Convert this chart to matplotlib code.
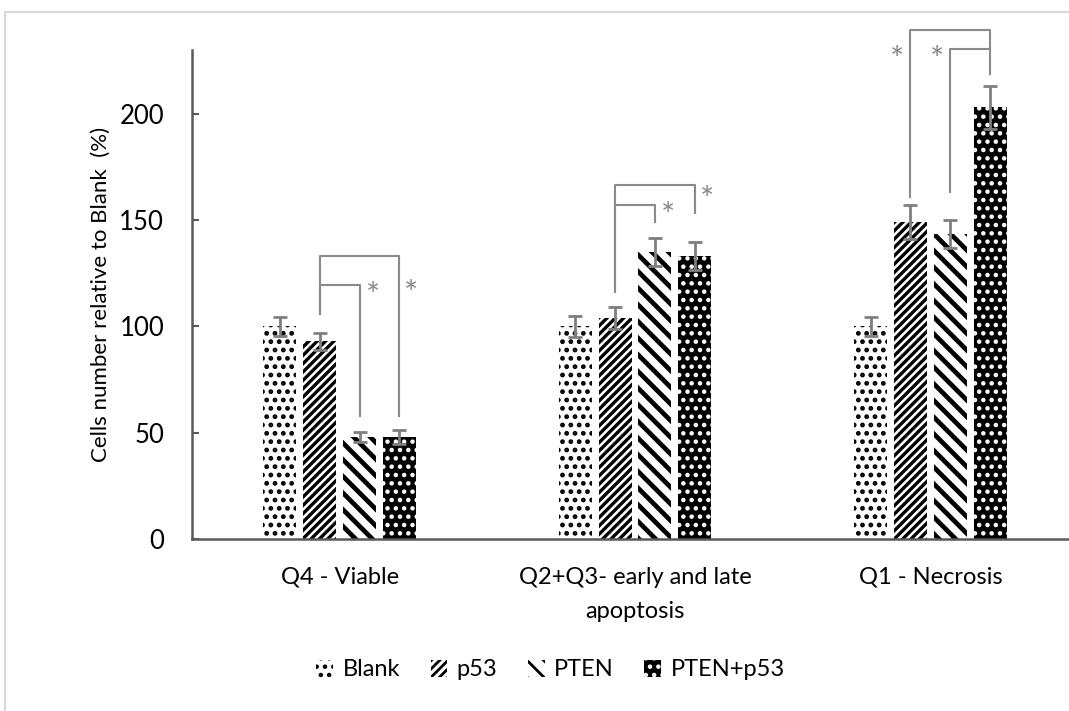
import numpy as np
import matplotlib
matplotlib.use("Agg")
import matplotlib.pyplot as plt
from matplotlib.patches import Rectangle

plt.rcParams['font.family'] = ['Lato', 'DejaVu Sans']

# data
categories = ["Q4 - Viable", "Q2+Q3- early and late\napoptosis", "Q1 - Necrosis"]
groups = ["Blank", "p53", "PTEN", "PTEN+p53"]
blank = [100, 100, 100]
p53 = [93, 104, 149]
pten = [48, 135, 143.5]
pten_p53 = [48, 133, 203]
blank_err = [4.5, 5, 4.5]
p53_err = [4, 5, 8]
pten_err = [2.5, 6.5, 6.5]
pten_p53_err = [3.5, 6.5, 10]

values = [blank, p53, pten, pten_p53]
errors = [blank_err, p53_err, pten_err, pten_p53_err]

# bar looks: face, hatch, hatch colour, hatch width
styles = [("white", "..", "black", 2.2),
          ("white", "////", "black", 2.4),
          ("white", "\\\\", "black", 3.4),
          ("black", "..", "white", 2.0)]

fig = plt.figure(figsize=(10.69, 7.11), dpi=100)
W, H = 1069, 711
ax = fig.add_axes([192 / W, (H - 539) / H, (1078 - 192) / W, (539 - 50) / H])

x = np.arange(len(categories))
step = 0.135
width = 0.112
handles = []
for i in range(len(groups)):
    face, hatch, hcol, hlw = styles[i]
    pos = x + (i - 1.5) * step
    plt.rcParams['hatch.linewidth'] = hlw
    bars = ax.bar(pos, values[i], width, color=face, edgecolor=hcol, linewidth=0,
                  hatch=hatch, label=groups[i], zorder=2)
    for b in bars:
        if hasattr(b, "set_hatch_linewidth"):
            b.set_hatch_linewidth(hlw)
    handles.append(bars)
    ax.errorbar(pos, values[i], yerr=errors[i], fmt="none", ecolor="#7f7f7f",
                elinewidth=2, capsize=5, capthick=2, zorder=3)

ax.set_xlim(-0.5, 2.5)
ax.set_ylim(0, 230)
ax.set_yticks([0, 50, 100, 150, 200])
ax.set_xticks(x)
ax.set_xticklabels(categories, fontsize=17, linespacing=1.75)
ax.tick_params(axis="x", length=0, pad=20)
ax.tick_params(axis="y", direction="in", length=5, width=1.5, color="#595959",
               labelsize=18.5, pad=20)
for s in ["top", "right"]:
    ax.spines[s].set_visible(False)
for s in ["left", "bottom"]:
    ax.spines[s].set_color("#595959")
    ax.spines[s].set_linewidth(1.8)
ax.set_ylabel("Cells number relative to Blank  (%)", fontsize=16, labelpad=6)

# significance brackets
bc = "#8a8a8a"
def off(i):
    return (i - 1.5) * step

def bracket(g, a, b, y_left, y_top, y_right):
    xa, xb = g + off(a), g + off(b)
    ax.plot([xa, xa, xb, xb], [y_left, y_top, y_top, y_right], color=bc, lw=1.5,
            clip_on=False, zorder=4)

bracket(0, 1, 3, 106, 133, 58)
bracket(0, 1, 2, 106, 119.5, 58)
bracket(1, 1, 3, 116, 166.5, 153.5)
bracket(1, 1, 2, 116, 157, 149)
bracket(2, 1, 3, 161, 239.5, 218.5)
bracket(2, 2, 3, 163, 230.5, 230.5)

star = dict(color="#8a8a8a", fontsize=24, ha="center", va="center", clip_on=False)
ax.text(0 + off(2) + 0.045, 114, "*", **star)
ax.text(0 + off(3) + 0.04, 115, "*", **star)
ax.text(1 + off(2) + 0.045, 151.5, "*", **star)
ax.text(1 + off(3) + 0.04, 159, "*", **star)
ax.text(2 + off(1) - 0.045, 225, "*", **star)
ax.text(2 + off(2) - 0.045, 225, "*", **star)

leg = fig.legend(handles=handles, labels=groups, loc="center", ncol=4,
                 bbox_to_anchor=(0.515, 1 - 670 / H), frameon=False, fontsize=17,
                 handlelength=0.7, handleheight=0.7, handletextpad=0.4,
                 columnspacing=1.3)

fig.add_artist(Rectangle((5 / W, -0.1), 2, 0.1 + (H - 12) / H, transform=fig.transFigure,
                         fill=False, edgecolor="#d9d9d9", lw=1.5))

fig.savefig("out.png", dpi=100)
